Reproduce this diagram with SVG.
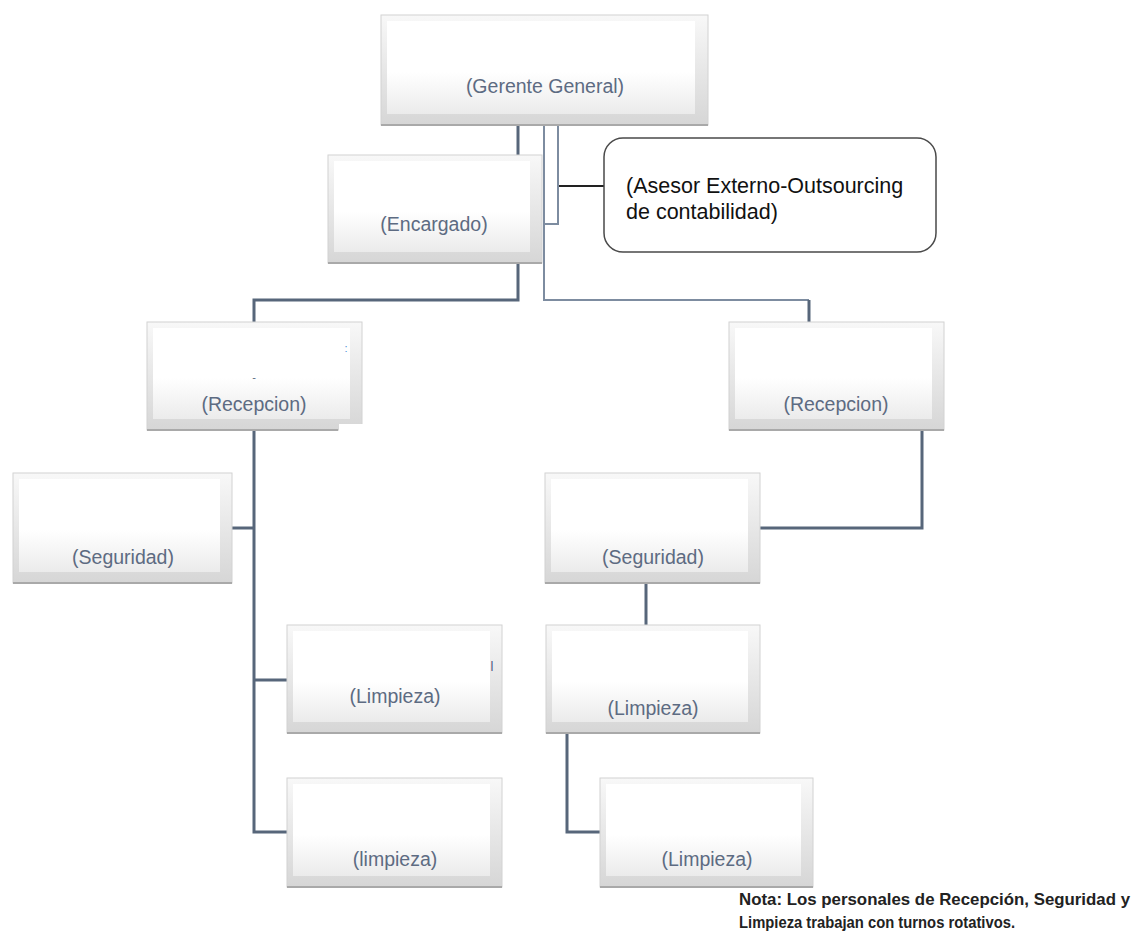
<svg xmlns="http://www.w3.org/2000/svg" width="1144" height="936" viewBox="0 0 1144 936">
<defs>
<linearGradient id="rim" x1="0" y1="0" x2="0" y2="1">
<stop offset="0" stop-color="#f8f8f8"/>
<stop offset="1" stop-color="#d6d6d6"/>
</linearGradient>
<linearGradient id="face" x1="0" y1="0" x2="0" y2="1">
<stop offset="0" stop-color="#ffffff"/>
<stop offset="0.55" stop-color="#ffffff"/>
<stop offset="1" stop-color="#ebebeb"/>
</linearGradient>
<style>
.base{fill:url(#rim);stroke:#d2d2d2;stroke-width:1}
.face{fill:url(#face)}
.shade{stroke:#a9a9a9;stroke-width:2}
.lbl{font-family:"Liberation Sans",Arial,sans-serif;font-size:19.5px;fill:#5d6b82;text-anchor:middle}
.thick{fill:none;stroke:#57667a;stroke-width:3}
.thin{fill:none;stroke:#7d8ca0;stroke-width:2}
.black{fill:none;stroke:#222;stroke-width:2}
.ases{font-family:"Liberation Sans",Arial,sans-serif;font-size:21.5px;fill:#111}
.nota{font-family:"Liberation Sans",Arial,sans-serif;font-size:16.5px;font-weight:bold;fill:#222}
.mark{font-family:"Liberation Sans",Arial,sans-serif;font-size:11px;text-anchor:middle}
</style>
</defs>
<rect width="1144" height="936" fill="#ffffff"/>

<g id="connectors">
<path class="thick" d="M518 125 V155"/>
<path class="thick" d="M518 263 V300 H254 V322"/>
<path class="thin" d="M544 125 V300 H809"/>
<path class="thick" d="M809 300 V322"/>
<path class="thin" d="M558 125 V224 H544"/>
<path class="black" d="M559 186 H604"/>
<path class="thick" d="M254 430 V832 H287"/>
<path class="thick" d="M254 528 H232"/>
<path class="thick" d="M254 680 H287"/>
<path class="thick" d="M922 430 V528 H760"/>
<path class="thick" d="M646 583 V625"/>
<path class="thick" d="M567 733 V832 H600"/>
</g>

<g id="n-gerente">
<rect class="base" x="381" y="15" width="327" height="110"/>
<rect class="face" x="387" y="21" width="308" height="93"/>
<line class="shade" x1="381" y1="125" x2="708" y2="125"/>
<text class="lbl" x="545" y="93">(Gerente General)</text>
</g>

<g id="n-encargado">
<rect class="base" x="328" y="155" width="214" height="108"/>
<rect class="face" x="334" y="161" width="196" height="91"/>
<line class="shade" x1="328" y1="263" x2="542" y2="263"/>
<text class="lbl" x="434" y="231">(Encargado)</text>
</g>

<g id="n-asesor">
<rect x="604" y="138" width="332" height="114" rx="19" ry="19" fill="#ffffff" stroke="#4a4a4a" stroke-width="1.5"/>
<text class="ases" x="626" y="193">(Asesor Externo-Outsourcing</text>
<text class="ases" x="626" y="219">de contabilidad)</text>
</g>

<g id="n-recepcion-1">
<rect class="base" x="147" y="322" width="215" height="108"/>
<rect class="face" x="153" y="328" width="197" height="91"/>
<line class="shade" x1="147" y1="430" x2="338" y2="430"/>
<rect x="339" y="424" width="25" height="8" fill="#ffffff"/>
<text class="mark" x="346" y="352" fill="#4a8fd6">:</text>
<text class="mark" x="254" y="381" fill="#5d6b82">-</text>
<text class="lbl" x="254" y="411">(Recepcion)</text>
</g>

<g id="n-recepcion-2">
<rect class="base" x="729" y="322" width="215" height="108"/>
<rect class="face" x="735" y="328" width="197" height="91"/>
<line class="shade" x1="729" y1="430" x2="944" y2="430"/>
<text class="lbl" x="836" y="411">(Recepcion)</text>
</g>

<g id="n-seguridad-1">
<rect class="base" x="13" y="473" width="219" height="110"/>
<rect class="face" x="19" y="479" width="201" height="93"/>
<line class="shade" x1="13" y1="583" x2="232" y2="583"/>
<text class="lbl" x="123" y="564">(Seguridad)</text>
</g>

<g id="n-seguridad-2">
<rect class="base" x="545" y="473" width="215" height="110"/>
<rect class="face" x="551" y="479" width="197" height="93"/>
<line class="shade" x1="545" y1="583" x2="760" y2="583"/>
<text class="lbl" x="653" y="564">(Seguridad)</text>
</g>

<g id="n-limpieza-1">
<rect class="base" x="287" y="625" width="215" height="108"/>
<rect class="face" x="293" y="631" width="197" height="91"/>
<line class="shade" x1="287" y1="733" x2="502" y2="733"/>
<text class="mark" x="492" y="669" fill="#2a2f6a">|</text>
<text class="lbl" x="395" y="703">(Limpieza)</text>
</g>

<g id="n-limpieza-2">
<rect class="base" x="287" y="778" width="215" height="109"/>
<rect class="face" x="293" y="784" width="197" height="92"/>
<line class="shade" x1="287" y1="887" x2="502" y2="887"/>
<text class="lbl" x="395" y="866">(limpieza)</text>
</g>

<g id="n-limpieza-3">
<rect class="base" x="546" y="625" width="214" height="108"/>
<rect class="face" x="552" y="631" width="196" height="91"/>
<line class="shade" x1="546" y1="733" x2="760" y2="733"/>
<text class="lbl" x="653" y="715">(Limpieza)</text>
</g>

<g id="n-limpieza-4">
<rect class="base" x="600" y="778" width="213" height="109"/>
<rect class="face" x="606" y="784" width="195" height="92"/>
<line class="shade" x1="600" y1="887" x2="813" y2="887"/>
<text class="lbl" x="707" y="866">(Limpieza)</text>
</g>

<g id="nota">
<text class="nota" x="739" y="905" textLength="391" lengthAdjust="spacingAndGlyphs">Nota: Los personales de Recepción, Seguridad y</text>
<text class="nota" x="739" y="928" textLength="276" lengthAdjust="spacingAndGlyphs">Limpieza trabajan con turnos rotativos.</text>
</g>
</svg>
